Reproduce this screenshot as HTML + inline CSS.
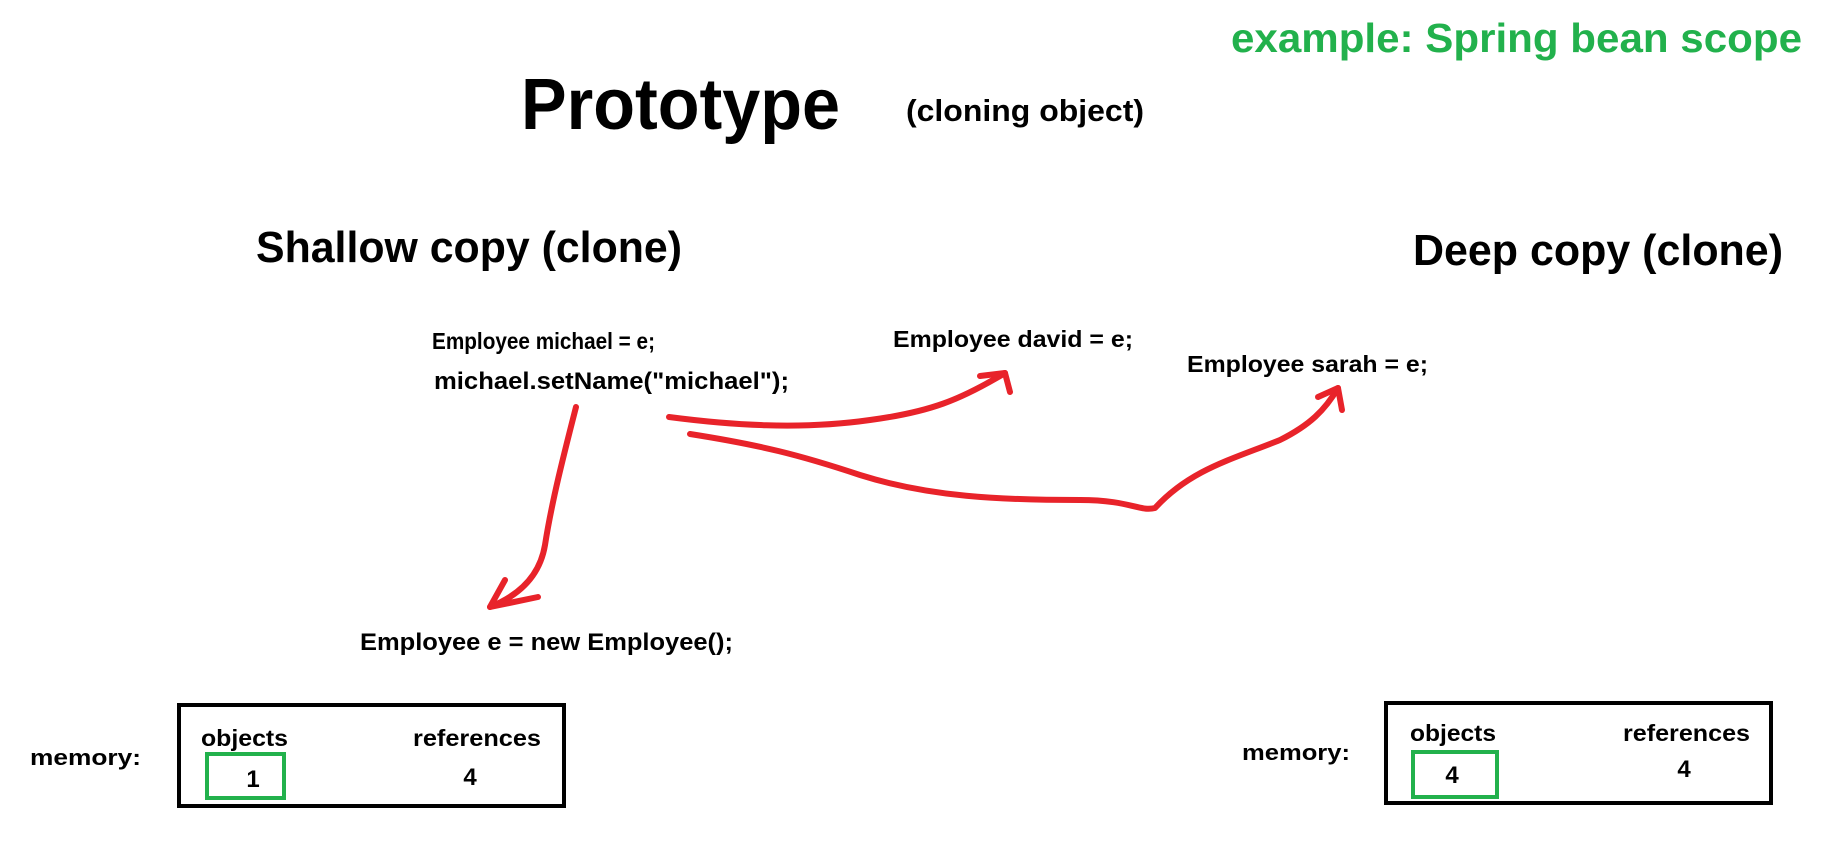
<!DOCTYPE html>
<html><head><meta charset="utf-8"><style>
html,body{margin:0;padding:0;background:#fff;}
svg{display:block;}
text{font-family:"Liberation Sans",sans-serif;font-weight:bold;fill:#000;}
</style></head><body>
<svg width="1825" height="861" viewBox="0 0 1825 861" xmlns="http://www.w3.org/2000/svg">
<rect width="1825" height="861" fill="#fff"/>
<text x="1231" y="52" font-size="41" style="fill:#22b14c" textLength="571" lengthAdjust="spacingAndGlyphs">example: Spring bean scope</text>
<text x="521" y="129" font-size="72" textLength="319" lengthAdjust="spacingAndGlyphs">Prototype</text>
<text x="906" y="121" font-size="31" textLength="238" lengthAdjust="spacingAndGlyphs">(cloning object)</text>
<text x="256" y="262" font-size="44" textLength="426" lengthAdjust="spacingAndGlyphs">Shallow copy (clone)</text>
<text x="1413" y="265" font-size="44" textLength="370" lengthAdjust="spacingAndGlyphs">Deep copy (clone)</text>
<text x="432" y="349" font-size="23" textLength="223" lengthAdjust="spacingAndGlyphs">Employee michael = e;</text>
<text x="434" y="389" font-size="24" textLength="355" lengthAdjust="spacingAndGlyphs">michael.setName("michael");</text>
<text x="893" y="347" font-size="23" textLength="240" lengthAdjust="spacingAndGlyphs">Employee david = e;</text>
<text x="1187" y="372" font-size="23" textLength="241" lengthAdjust="spacingAndGlyphs">Employee sarah = e;</text>
<text x="360" y="650" font-size="24" textLength="373" lengthAdjust="spacingAndGlyphs">Employee e = new Employee();</text>

<g fill="none" stroke="#e8232a" stroke-width="6" stroke-linecap="round" stroke-linejoin="round">
<path d="M576,407 C565,450 552,500 545,545 C540,575 520,595 490,607"/>
<path d="M490,607 L505,580 M490,607 L538,597"/>
<path d="M669,417 C730,425 800,430 870,420 C930,412 960,400 1005,373"/>
<path d="M1005,373 L980,376 M1005,373 L1010,392"/>
<path d="M690,434 C760,445 800,455 860,475 C930,497 1000,500 1080,500 C1130,500 1140,512 1155,508 C1190,470 1230,460 1280,440 C1310,425 1325,410 1338,388"/>
<path d="M1338,388 L1318,397 M1338,388 L1342,410"/>
</g>

<text x="30" y="765" font-size="22" textLength="111" lengthAdjust="spacingAndGlyphs">memory:</text>
<rect x="179" y="705" width="385" height="101" fill="none" stroke="#000" stroke-width="4"/>
<text x="201" y="746" font-size="23" textLength="87" lengthAdjust="spacingAndGlyphs">objects</text>
<text x="413" y="746" font-size="23" textLength="128" lengthAdjust="spacingAndGlyphs">references</text>
<rect x="207" y="754" width="77" height="44" fill="none" stroke="#22b14c" stroke-width="4"/>
<text x="253" y="787" font-size="24" text-anchor="middle">1</text>
<text x="470" y="785" font-size="24" text-anchor="middle">4</text>

<text x="1242" y="760" font-size="22" textLength="108" lengthAdjust="spacingAndGlyphs">memory:</text>
<rect x="1386" y="703" width="385" height="100" fill="none" stroke="#000" stroke-width="4"/>
<text x="1410" y="741" font-size="23" textLength="86" lengthAdjust="spacingAndGlyphs">objects</text>
<text x="1623" y="741" font-size="23" textLength="127" lengthAdjust="spacingAndGlyphs">references</text>
<rect x="1413" y="752" width="84" height="45" fill="none" stroke="#22b14c" stroke-width="4"/>
<text x="1452" y="783" font-size="24" text-anchor="middle">4</text>
<text x="1684" y="777" font-size="24" text-anchor="middle">4</text>
</svg>
</body></html>
